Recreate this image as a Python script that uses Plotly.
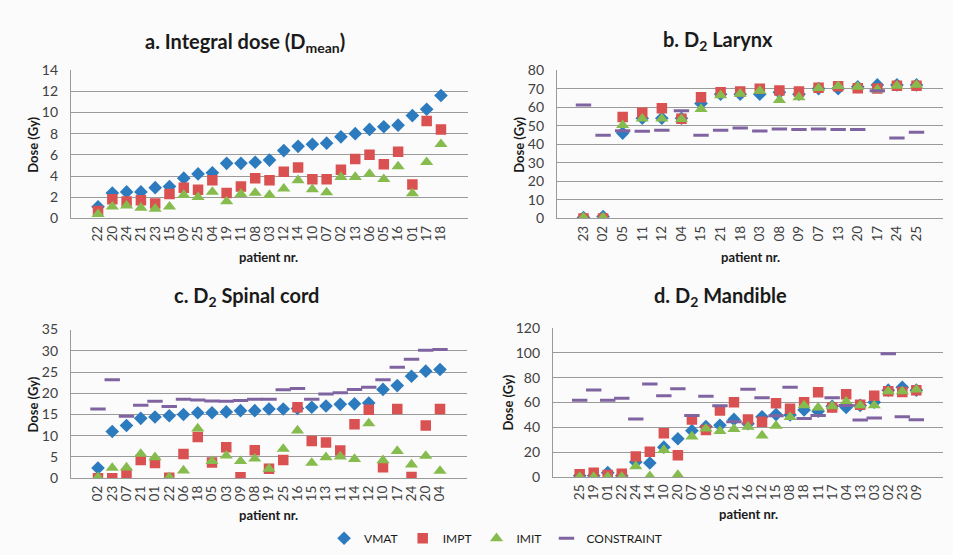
import plotly.graph_objects as go

# ---------------- data ----------------
a_pat = ["22","20","24","21","23","15","09","25","04","19","11","08","03","12","14","10","07","02","13","06","05","16","01","17","18"]
a_vmat = [1.1,2.4,2.5,2.5,2.9,3.0,3.8,4.2,4.3,5.2,5.2,5.3,5.5,6.4,6.8,7.0,7.1,7.7,8.0,8.4,8.65,8.8,9.7,10.3,11.6]
a_impt = [0.7,1.8,1.6,1.7,1.4,2.3,2.9,2.7,3.6,2.4,3.0,3.8,3.6,4.4,4.8,3.7,3.7,4.6,5.6,6.0,5.1,6.3,3.2,9.2,8.4]
a_imit = [0.4,1.1,1.2,1.0,0.9,1.1,2.2,2.0,2.5,1.6,2.3,2.4,2.2,2.8,3.6,2.75,2.45,3.9,3.9,4.2,3.7,4.9,2.35,5.3,7.0]

b_pat = ["23","02","05","11","12","04","15","21","18","03","08","09","07","13","20","17","24","25"]
b_vmat = [0.5,1.0,46,54,54,54,62,67,67,67,68,67,70,70,71,72,72,72]
b_impt = [0.0,0.0,54.7,57,59.4,53.8,65.3,68.1,68.5,69.9,69,68.5,70.4,71.3,70.2,70,71.6,71.6]
b_imit = [0.5,0.5,50.3,53.8,53.8,53.5,59,66.4,67.2,68.8,63.8,65.3,70.2,71.3,71,69.5,71.5,72]
b_con = [61.1,44.9,47.3,47,47.5,58,44.9,47.5,48.7,47.2,48.2,47.9,48.2,47.9,47.9,68.8,43.3,46.5]

c_pat = ["02","23","07","21","01","22","06","18","05","03","09","08","19","25","16","15","13","11","14","12","10","17","24","20","04"]
c_vmat = [2.4,11.0,12.4,14.1,14.4,14.7,15.0,15.4,15.4,15.6,15.9,15.9,16.3,16.3,16.4,16.7,17.0,17.4,17.5,17.7,20.9,21.8,24.0,25.2,25.6]
c_impt = [0.0,0.0,1.1,4.3,3.6,0.1,5.7,9.7,3.7,7.3,0.2,6.6,2.2,4.3,16.7,8.75,8.4,6.5,12.7,16.1,2.6,16.3,0.3,12.4,16.3]
c_imit = [0.2,2.4,2.5,5.7,4.9,0.2,1.8,11.7,4.0,5.3,4.0,4.6,2.2,6.9,11.2,3.6,4.9,5.1,4.5,12.9,4.2,6.4,3.2,5.25,1.7]
c_con = [16.3,23.2,14.6,17.2,18.1,16.9,18.6,18.4,18.2,18.1,18.3,18.6,18.6,20.8,21.1,18.6,19.8,20.1,20.9,21.4,23.2,26.1,28.0,30.1,30.3]

d_pat = ["25","19","01","22","24","14","10","20","07","06","05","21","16","12","15","08","18","11","17","04","13","03","02","23","09"]
d_vmat = [1,1,3.4,1,12,11.2,24,30.8,37.3,40.7,41.7,46.4,43,48.5,50.3,50,54,53,57,56,57.7,60.3,70,72.3,70]
d_impt = [2.1,3.4,1.5,2.5,16.4,20.3,35.2,17.5,46.4,37.8,53.5,60.3,46.4,44.6,59.5,55,60.3,68.4,56.1,66.8,58.2,65.5,69.1,68.6,69.9]
d_imit = [0,0,0,0,8.6,0.5,21.7,1.5,32.6,38.9,37,38.6,40.4,33.4,41.2,48.3,57.7,56,57,60.8,57.7,57.7,69,69,70.4]
d_con = [61.8,70.2,61.8,63.4,46.7,74.9,65.5,71.2,49.6,65,57.4,44.6,70.7,63.9,49.3,72.3,47.2,49.6,63.9,57.7,45.9,47.5,99.4,48.5,46.2]

# ---------------- styling ----------------
W, H = 953, 555
BLUE, RED, GREEN, PURPLE = "#2C7BBF", "#DA5151", "#86BC4E", "#8064A2"
GRID = "#9a9a9a"
FONT = "Lato, Open Sans, DejaVu Sans, sans-serif"

def px(x): return x / W
def py(y): return 1 - y / H

panels = [
    dict(pat=a_pat, v=a_vmat, p=a_impt, i=a_imit, c=None, rng=[0, 14], dt=2,
         xd=[px(71), px(468)], yd=[py(216), py(63)]),
    dict(pat=b_pat, v=b_vmat, p=b_impt, i=b_imit, c=b_con, rng=[0, 80], dt=10,
         xd=[px(557), px(943)], yd=[py(216), py(63)]),
    dict(pat=c_pat, v=c_vmat, p=c_impt, i=c_imit, c=c_con, rng=[0, 35], dt=5,
         xd=[px(71), px(467)], yd=[py(484), py(330.7)]),
    dict(pat=d_pat, v=d_vmat, p=d_impt, i=d_imit, c=d_con, rng=[0, 120], dt=20,
         xd=[px(553), px(943)], yd=[py(482.7), py(329.3)]),
]

fig = go.Figure()
layout = {}
for k, pn in enumerate(panels):
    n = "" if k == 0 else str(k + 1)
    xa, ya = "x" + n, "y" + n
    first = (k == 1)
    fig.add_trace(go.Scatter(x=pn["pat"], y=pn["v"], mode="markers", name="VMAT",
                             xaxis=xa, yaxis=ya, showlegend=first, legendrank=1,
                             marker=dict(symbol="diamond", size=10.5, color=BLUE)))
    fig.add_trace(go.Scatter(x=pn["pat"], y=pn["p"], mode="markers", name="IMPT",
                             xaxis=xa, yaxis=ya, showlegend=first, legendrank=2,
                             marker=dict(symbol="square", size=10.5, color=RED)))
    fig.add_trace(go.Scatter(x=pn["pat"], y=pn["i"], mode="markers", name="IMIT",
                             xaxis=xa, yaxis=ya, showlegend=first, legendrank=3,
                             marker=dict(symbol="triangle-up", size=11.5, color=GREEN)))
    if pn["c"] is not None:
        fig.add_trace(go.Scatter(x=pn["pat"], y=pn["c"], mode="markers", name="CONSTRAINT",
                                 xaxis=xa, yaxis=ya, showlegend=first, legendrank=4,
                                 marker=dict(symbol="line-ew", size=11,
                                             line=dict(color=PURPLE, width=3))))
    layout["xaxis" + n] = dict(domain=pn["xd"], anchor=ya, type="category",
                               categoryorder="array", categoryarray=pn["pat"],
                               tickmode="array", tickvals=pn["pat"], ticktext=pn["pat"],
                               tickangle=-90, showgrid=False, showline=True,
                               linecolor=GRID, linewidth=1.3, ticks="",
                               ticklabelstandoff=1,
                               tickfont=dict(size=13.5, color="#404040", family=FONT),
                               zeroline=False)
    layout["yaxis" + n] = dict(domain=pn["yd"], anchor=xa, range=pn["rng"], dtick=pn["dt"],
                               showgrid=True, gridcolor=GRID, gridwidth=1.3,
                               showline=True, linecolor=GRID, linewidth=1.3, ticks="",
                               zeroline=False, ticklabelstandoff=9,
                               tickfont=dict(size=14, color="#404040", family=FONT))

ann = []
def title(text, x, y, size=20):
    ann.append(dict(text=text, x=px(x), y=py(y), xref="paper", yref="paper",
                    showarrow=False, xanchor="center", yanchor="middle",
                    font=dict(size=size, family=FONT, color="#1a1a1a")))

title("<b>a. Integral dose (D<sub>mean</sub>)</b>", 245, 35)
title("<b>b. D<sub>2</sub> Larynx</b>", 718, 33)
title("<b>c. D<sub>2</sub> Spinal cord</b>", 247, 297)
title("<b>d. D<sub>2</sub> Mandible</b>", 720, 297)
for x, y in [(268, 256), (750, 256), (268, 522), (748, 521)]:
    title("<b>patient nr.</b>", x, y, size=13)
for x, y in [(33, 140), (519, 140), (33, 408), (508, 406)]:
    ann.append(dict(text="<b>Dose (Gy)</b>", x=px(x), y=py(y), xref="paper", yref="paper",
                    showarrow=False, textangle=-90, xanchor="center", yanchor="middle",
                    font=dict(size=13, family=FONT, color="#1a1a1a")))

fig.update_layout(**layout)
fig.update_layout(
    width=W, height=H, margin=dict(l=0, r=0, t=0, b=0),
    paper_bgcolor="#fbfbfb", plot_bgcolor="#fbfbfb",
    annotations=ann,
    legend=dict(orientation="h", x=0.52, xanchor="center", y=py(546), yanchor="middle",
                font=dict(size=12, family=FONT, color="#1a1a1a"),
                itemwidth=30, tracegroupgap=0, bgcolor="rgba(0,0,0,0)"),
    font=dict(family=FONT),
)

fig.write_html("out.html")
